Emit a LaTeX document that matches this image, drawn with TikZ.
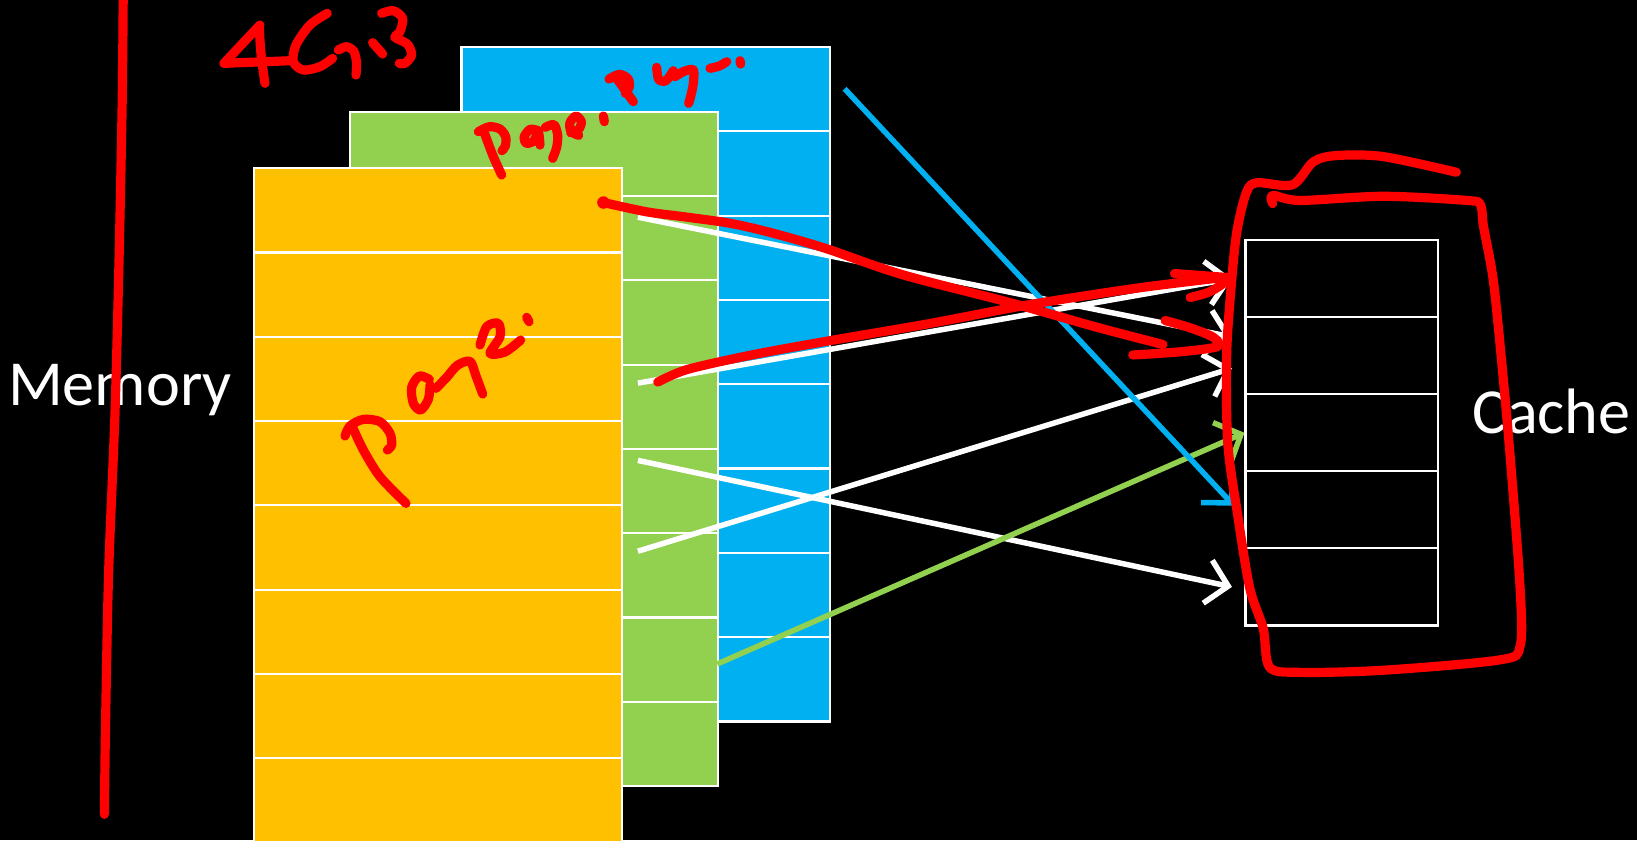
\documentclass[tikz,border=0pt]{standalone}
\usepackage{fontspec}
\setmainfont{Carlito}
\usepackage{tikz}
\usetikzlibrary{calc, positioning, arrows.meta}
\definecolor{pageblue}{HTML}{00B0F0}
\definecolor{pagegreen}{HTML}{92D050}
\definecolor{pageorange}{HTML}{FFC000}
\definecolor{inkred}{HTML}{FF0000}

\begin{document}
\begin{tikzpicture}[x=0.1mm, y=-0.1mm, >={Straight Barb[length=2mm,width=4.2mm]},
    row/.style={draw=white, line width=0.6pt, minimum width=35.3mm, minimum height=8.075mm, inner sep=0pt, anchor=north west},
    slot/.style={draw=white, line width=0.6pt, minimum width=18.4mm, minimum height=7.38mm, inner sep=0pt, anchor=north west},
    link/.style={line width=1.5pt, ->},
    ink/.style={draw=inkred, line width=2.5pt, line cap=round, line join=round},
    bigtext/.style={text=white, font=\fontsize{17.5}{21}\selectfont, inner sep=0pt, anchor=base west}]
    \fill[black] (0,0) rectangle (1568,805);
    \useasboundingbox (0,0) rectangle (1568,805);

    % three pages of memory
    \foreach \i in {0,...,7}
        \node[row, fill=pageblue] (b\i) at (441, {44+80.75*\i}) {};
    \foreach \i in {0,...,7}
        \node[row, fill=pagegreen] (g\i) at (334, {106+80.75*\i}) {};
    \foreach \i in {0,...,7}
        \node[row, fill=pageorange] (o\i) at (242, {160+80.75*\i}) {};

    % cache lines
    \foreach \i in {1,...,5}
        \node[slot] (c\i) at (1192, {229+73.8*(\i-1)}) {};

    \node[bigtext] (memory) at (7,388) {Memory};
    \node[bigtext] (cache) at (1410,415) {Cache};

    \coordinate (w1) at (611,208);
    \coordinate (w2) at (611,367);
    \coordinate (w3) at (611,441);
    \coordinate (w4) at (611,528);
    \coordinate (gs) at (687,636);
    \coordinate (bs) at (809,85);

    \draw[link, white] (w1) -- ([xshift=-1.2mm, yshift=1.8mm]c2.west);
    \draw[link, white] (w2) -- ([xshift=-1.2mm]c1.west);
    \draw[link, white] (w3) -- ([xshift=-1.2mm]c5.west);
    \draw[link, white] (w4) -- ([xshift=-1.2mm, yshift=-1.2mm]c2.west);
    \draw[link, pagegreen] (gs) -- (c3.west);
    \draw[link, pageblue] (bs) -- ([xshift=-1mm, yshift=0.4mm]c4.west);

    % red ink
    \draw[ink] plot[smooth] coordinates {(118,0) (117,100) (114,250) (110,400) (104,550) (101,700) (100,780)};
    \fill[inkred] (578,194) circle (0.6mm);
    \draw[ink] plot[smooth] coordinates {(578,194) (620,203) (658,208) (700,214) (739,223) (791,238) (864,263) (968,290) (1049,313) (1114,330)};
    \draw[ink] plot[smooth] coordinates {(1116,307) (1140,314) (1162,323) (1166,332) (1130,337) (1085,340)};
    \draw[ink] plot[smooth] coordinates {(630,366) (658,354) (720,340) (791,327) (890,310) (985,292) (1089,276) (1170,266)};
    \draw[ink] (1125,262) -- (1178,266);
    \draw[ink] (1140,285) .. controls (1160,280) .. (1178,267);
    \draw[ink] plot[smooth] coordinates {(1395,165) (1325,150) (1280,149) (1258,155) (1238,177) (1204,175) (1194,184) (1185,220) (1180,266) (1175,338) (1176,424) (1185,490) (1197,563) (1210,602) (1216,639) (1245,644) (1325,642) (1437,632) (1456,619) (1456,563) (1446,431) (1437,332) (1430,266) (1421,217) (1418,196) (1405,192) (1325,188) (1245,192) (1219,187) (1219,195)};

    \begin{scope}[shift={(201.1,0)}, scale=0.3193]
        \draw[ink] (150,75) -- (42,190) -- (245,182);
        \draw[ink] (148,80) .. controls (152,160) .. (165,250);
        \draw[ink] plot[smooth] coordinates {(352,40) (300,75) (258,135) (250,185) (280,210) (330,200) (368,175)};
        \draw[ink] plot[smooth] coordinates {(385,150) (410,140) (432,155) (440,190) (438,225)};
        \draw[ink] (488,128) -- (518,162);
        \draw[ink] plot[smooth] coordinates {(515,40) (550,32) (578,55) (570,95) (555,112) (592,132) (605,165) (585,190) (568,190)};
    \end{scope}

    \begin{scope}[shift={(440.6,57.5)}, scale=0.3193]
        \draw[ink] plot[smooth] coordinates {(72,215) (98,285) (125,345)};
        \draw[ink] plot[smooth] coordinates {(55,215) (88,200) (120,207) (137,230) (136,258) (126,272)};
        \draw[ink] plot[smooth] coordinates {(235,212) (210,208) (192,232) (200,250) (222,242) (235,215) (240,255)};
        \draw[ink] plot[smooth] coordinates {(256,202) (282,194) (293,225) (290,262) (278,295)};
        \draw[ink] plot[smooth] coordinates {(332,218) (356,208) (364,185) (348,168) (330,188) (333,214) (356,226)};
        \draw[ink] (430,168) -- (433,185);
        \draw[ink] (470,55) -- (520,125);
        \draw[ink] plot[smooth] coordinates {(447,57) (478,43) (504,56) (508,80) (496,100)};
        \draw[ink] plot[smooth] coordinates {(590,22) (596,58) (618,62) (640,32)};
        \draw[ink] plot[smooth] coordinates {(645,50) (672,34) (700,30) (700,70) (693,105) (686,130)};
        \draw[ink] plot[smooth] coordinates {(750,25) (778,18) (800,5)};
        \draw[ink] (840,2) -- (842,12);
    \end{scope}

    \begin{scope}[shift={(316.1,277.8)}, scale=0.3193]
        \draw[ink] plot[smooth] coordinates {(68,412) (100,480) (150,560) (228,640)};
        \draw[ink] plot[smooth] coordinates {(45,438) (60,408) (100,388) (150,395) (180,430) (185,465) (172,480)};
        \draw[ink] plot[smooth] coordinates {(298,268) (268,258) (245,292) (250,340) (272,360) (295,328) (300,285)};
        \draw[ink] plot[smooth] coordinates {(318,295) (350,262) (382,226) (420,214) (438,258) (458,312)};
        \draw[ink] plot[smooth] coordinates {(450,165) (470,110) (505,100) (510,140) (480,190) (525,186) (572,150)};
        \draw[ink] (590,82) -- (597,95);
    \end{scope}
\end{tikzpicture}
\end{document}
